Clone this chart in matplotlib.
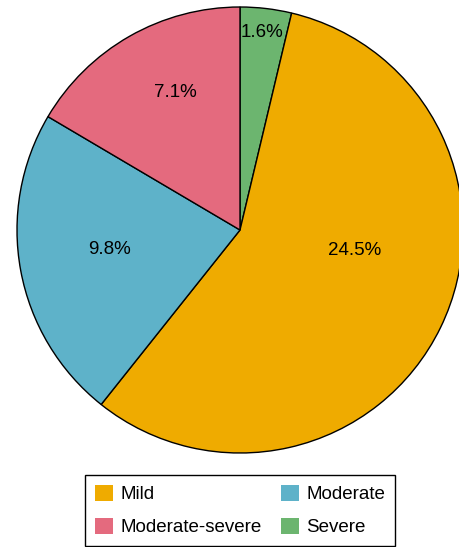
import matplotlib
matplotlib.use("Agg")
import matplotlib.pyplot as plt
from matplotlib.patches import Patch
import numpy as np

plt.rcParams['font.family'] = ['Liberation Sans', 'DejaVu Sans']

categories = ["Severe", "Mild", "Moderate", "Moderate-severe"]
values = [1.6, 24.5, 9.8, 7.1]
labels = ["1.6%", "24.5%", "9.8%", "7.1%"]
colors = ["#6CB56F", "#EFAB00", "#5EB2C9", "#E46A7E"]
# label placement (radius fraction, angle offset from slice middle, degrees)
label_r = [0.90, 0.52, 0.59, 0.69]
label_dang = [0.4, 17.0, -3.0, -5.0]

W, H = 459, 547
fig = plt.figure(figsize=(W / 100, H / 100), dpi=100)
cx, cy, R = 240, 230, 223
ax = fig.add_axes([(cx - R) / W, (H - cy - R) / H, 2 * R / W, 2 * R / H])
wedges, _ = ax.pie(values, colors=colors, startangle=90, counterclock=False,
                   wedgeprops=dict(edgecolor="black", linewidth=1.0))
ax.set_xlim(-1, 1)
ax.set_ylim(-1, 1)
ax.set_aspect("equal")
ax.axis("off")

for w, lab, r, da in zip(wedges, labels, label_r, label_dang):
    mid = np.deg2rad((w.theta1 + w.theta2) / 2 + da)
    ax.annotate(lab, (r * np.cos(mid), r * np.sin(mid)), xytext=(0, -1.5),
                textcoords="offset points", ha="center", va="center",
                fontsize=13.5, color="black")

order = ["Mild", "Moderate-severe", "Moderate", "Severe"]
handles = [Patch(facecolor=colors[categories.index(c)], edgecolor="none") for c in order]
leg = fig.legend(handles, order, loc="center", bbox_to_anchor=(240 / W, 1 - 510.5 / H),
                 ncol=2, fontsize=13.5, frameon=True, fancybox=False,
                 edgecolor="black", framealpha=1, handlelength=1.0, handleheight=1.0,
                 handletextpad=0.38, columnspacing=1.0, labelspacing=0.75,
                 borderpad=0.5)
leg.get_frame().set_linewidth(1.0)

fig.savefig("out.png", dpi=100)
